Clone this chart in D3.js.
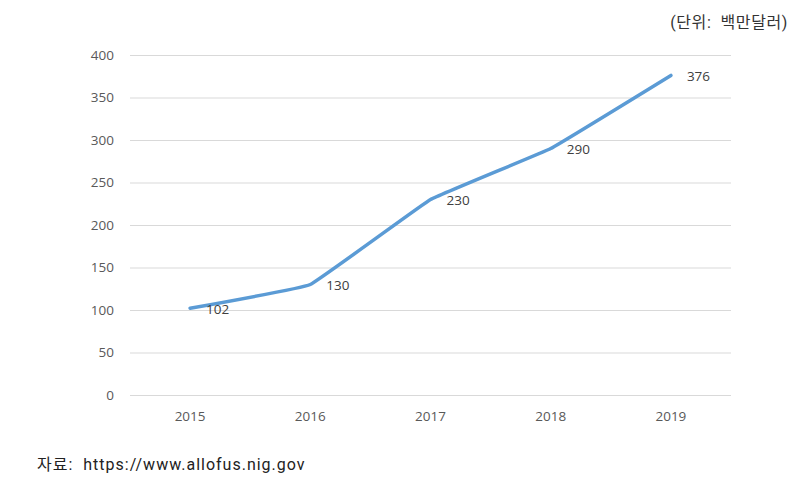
<!DOCTYPE html>
<html><head><meta charset="utf-8">
<script src="https://cdn.jsdelivr.net/npm/d3@7"></script>
<style>body{margin:0;background:#fff}svg{display:block}</style>
</head><body>
<svg id="c" width="806" height="483"></svg>
<script>
const years = ["2015","2016","2017","2018","2019"];
const values = [102,130,230,290,376];
const yTicks = [0,50,100,150,200,250,300,350,400];
const unitText = "(단위:  백만달러)";
const sourceText = "자료:  https://www.allofus.nig.gov";

const svg = d3.select("#c");
const L = 130, R = 731, T = 55, B = 395;
const x = d3.scaleBand().domain(years).range([L, R]);
const y = d3.scaleLinear().domain([0,400]).range([B, T]);
const cx = d => x(d) + x.bandwidth()/2;
const font = "'Open Sans', 'Noto Sans', sans-serif";
const kfont = "Roboto, 'Noto Sans CJK KR', sans-serif";

// gridlines
svg.append("g").selectAll("line").data(yTicks).join("line")
  .attr("x1", L).attr("x2", R)
  .attr("y1", d => y(d)+0.5).attr("y2", d => y(d)+0.5)
  .attr("stroke", "#d9d9d9").attr("stroke-width", 1);

// y labels
svg.append("g").selectAll("text").data(yTicks).join("text")
  .attr("x", 114).attr("y", d => y(d)).attr("dy", "0.35em")
  .attr("text-anchor", "end").attr("font-family", font).attr("font-size", 13.5)
  .attr("fill", "#595959").text(d => d);

// x labels
svg.append("g").selectAll("text").data(years).join("text")
  .attr("x", d => cx(d)).attr("y", 416).attr("dy", "0.35em")
  .attr("text-anchor", "middle").attr("font-family", font).attr("font-size", 13.5)
  .attr("fill", "#595959").text(d => d);

// line
const pts = years.map((yr,i) => [cx(yr), y(values[i])]);
svg.append("path").datum(pts)
  .attr("d", d3.line().curve(d3.curveCardinal.tension(0.8)))
  .attr("fill", "none").attr("stroke", "#5B9BD5").attr("stroke-width", 3.5)
  .attr("stroke-linecap", "round").attr("stroke-linejoin", "round");

// data labels
svg.append("g").selectAll("text").data(years).join("text")
  .attr("x", d => cx(d) + 16).attr("y", (d,i) => y(values[i]) + 1).attr("dy", "0.35em")
  .attr("font-family", font).attr("font-size", 13.5)
  .attr("fill", "#404040").text((d,i) => values[i]);

// unit
svg.append("text").attr("x", 788).attr("y", 22).attr("dy", "0.35em")
  .attr("text-anchor", "end").attr("font-family", kfont)
  .attr("font-size", 16).attr("fill", "#333")
  .style("white-space", "pre").attr("letter-spacing", 0.6).text(unitText);

// source
svg.append("text").attr("x", 37).attr("y", 464).attr("dy", "0.35em")
  .attr("font-family", kfont)
  .attr("font-size", 16).attr("fill", "#222")
  .style("white-space", "pre").attr("letter-spacing", 1).text(sourceText);
</script>
</body></html>
